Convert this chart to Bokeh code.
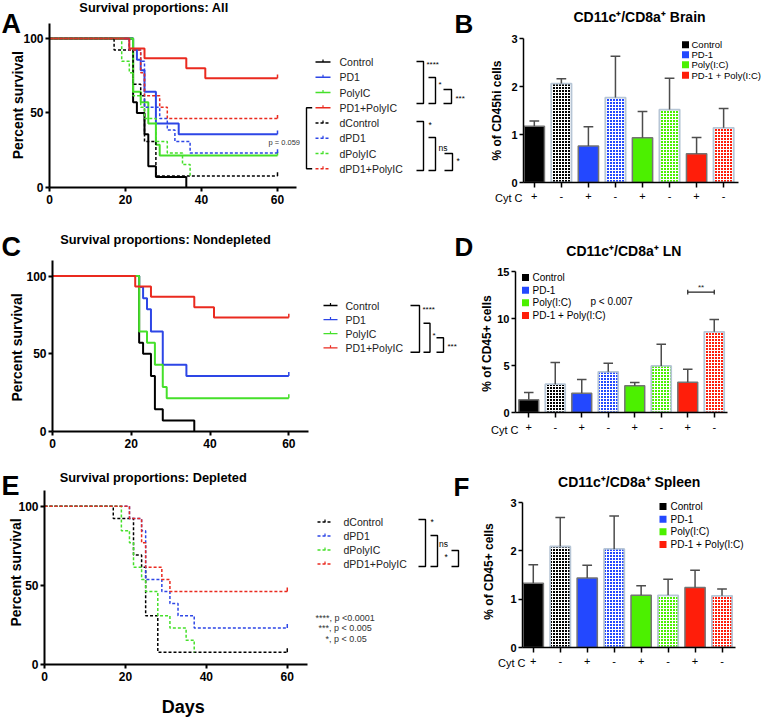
import math
from bokeh.plotting import figure
from bokeh.layouts import row, column
from bokeh.models import Range1d, FixedTicker
from bokeh.core.properties import value
from bokeh.embed import file_html
from bokeh.resources import INLINE

FONT = "Liberation Sans"

# ---------------- data ----------------
# Kaplan-Meier curves: day of each step and % surviving after it (last point = censoring at day 60)
ctrl_days = [0, 22, 23, 25, 26, 28, 36]
ctrl_surv = [100, 57.1, 50.0, 35.7, 14.3, 7.1, 0.0]
pd1_days = [0, 22, 23, 24, 25, 28, 34, 60]
pd1_surv = [100, 92.9, 85.7, 78.6, 64.3, 42.9, 35.7, 35.7]
poly_days = [0, 22, 24, 26, 28, 29, 60]
poly_surv = [100, 64.3, 57.1, 42.9, 28.6, 21.4, 21.4]
combo_days = [0, 21, 25, 36, 41, 60]
combo_surv = [100, 93.3, 86.7, 80.0, 73.3, 73.3]
dctrl_days = [0, 17, 22, 24, 25, 28, 60]
dctrl_surv = [100, 92.3, 69.2, 61.5, 30.8, 7.7, 7.7]
dpd1_days = [0, 21, 24, 25, 29, 31, 33, 37, 60]
dpd1_surv = [100, 92.3, 84.6, 53.8, 46.2, 38.5, 30.8, 23.1, 23.1]
dpoly_days = [0, 19, 21, 22, 24, 25, 28, 31, 35, 37]
dpoly_surv = [100, 84.6, 76.9, 61.5, 53.8, 46.2, 30.8, 23.1, 15.4, 7.7]
dcombo_days = [0, 21, 24, 25, 29, 31, 60]
dcombo_surv = [100, 92.3, 76.9, 61.5, 53.8, 46.2, 46.2]

nondep_names = ["Control", "PD1", "PolyIC", "PD1+PolyIC"]
dep_names = ["dControl", "dPD1", "dPolyIC", "dPD1+PolyIC"]
day_ticks = [0, 20, 40, 60]
pct_ticks = [0, 50, 100]

cytc = ["+", "-", "+", "-", "+", "-", "+", "-"]
bar_groups = ["Control", "PD-1", "Poly(I:C)", "PD-1 + Poly(I:C)"]
brain_mean = [1.17, 2.06, 0.76, 1.77, 0.93, 1.52, 0.60, 1.14]
brain_sem = [0.11, 0.10, 0.40, 0.86, 0.55, 0.65, 0.34, 0.40]
ln_mean = [1.35, 3.01, 2.06, 4.33, 2.84, 4.96, 3.23, 8.58]
ln_sem = [0.78, 2.31, 1.45, 0.92, 0.35, 2.31, 1.38, 1.31]
spleen_mean = [1.33, 2.09, 1.44, 2.04, 1.08, 1.08, 1.24, 1.07]
spleen_sem = [0.38, 0.60, 0.26, 0.68, 0.20, 0.33, 0.36, 0.14]
brain_ticks = [0, 1, 2, 3]
ln_ticks = [0, 5, 10, 15]
spleen_ticks = [0, 1, 2, 3]
ln_sig_pair = (6, 7)
ln_sig_y = 12.8

SURV_COLORS = ["#000000", "#2d46e6", "#45e02a", "#ea2a1f"]
BAR_COLORS = ["#000000", "#2348ff", "#4cf000", "#ff1e0a"]


class Pan:
    def __init__(self, x0, y0, W, H, frame=None, xr=None, yr=None):
        blank = frame is None
        if blank:
            frame = (x0, x0 + W, y0, y0 + H)
            xr = (x0, x0 + W)
            yr = (y0 + H, y0)
        l, r, t, b = frame
        fl, fr, ft, fb = round(l - x0), round(r - x0), round(t - y0), round(b - y0)
        self.L, self.R, self.T, self.B = x0 + fl, x0 + fr, y0 + ft, y0 + fb
        self.xr, self.yr = xr, yr
        kw = dict(width=W, height=H, x_range=Range1d(*xr), y_range=Range1d(*yr),
                  min_border_left=fl, min_border_right=W - fr,
                  min_border_top=ft, min_border_bottom=H - fb,
                  output_backend="svg", toolbar_location=None)
        if blank:
            kw.update(x_axis_location=None, y_axis_location=None)
        self.p = figure(**kw)
        if "frame_align" in self.p.properties():
            self.p.frame_align = False
        self.p.outline_line_color = None
        self.p.xgrid.visible = False
        self.p.ygrid.visible = False
        self.p.background_fill_color = "white"
        self.p.border_fill_color = "white"

    def dx(self, rx):
        return self.xr[0] + (rx - self.L) / (self.R - self.L) * (self.xr[1] - self.xr[0])

    def dy(self, ry):
        return self.yr[0] + (self.B - ry) / (self.B - self.T) * (self.yr[1] - self.yr[0])

    def lab(self, rx, ry, text, size, bold=False, align="left", baseline="middle",
            angle=0, color="black"):
        r = self.p.text(x=[self.dx(rx)], y=[self.dy(ry)], text=[text], text_font=value(FONT),
                        text_font_size=f"{size}px", text_font_style="bold" if bold else "normal",
                        text_align=align, text_baseline=baseline, angle=angle, text_color=color)
        r.level = "overlay"

    def txt(self, xs, ys, texts, size, color="black", align="left", bold=False):
        self.p.text(x=xs, y=ys, text=texts, text_font=value(FONT), text_font_size=f"{size}px",
                    text_baseline="middle", text_align=align, text_color=color,
                    text_font_style="bold" if bold else "normal")


def style_axis(ax, lw, tick_out, standoff, size, bold=True):
    ax.axis_line_color = "black"
    ax.axis_line_width = lw
    ax.major_tick_line_color = "black"
    ax.major_tick_line_width = lw
    ax.major_tick_out = tick_out
    ax.major_tick_in = 0
    ax.minor_tick_line_color = None
    ax.major_label_standoff = standoff
    ax.major_label_text_font = FONT
    ax.major_label_text_font_size = f"{size}px"
    ax.major_label_text_font_style = "bold" if bold else "normal"
    ax.major_label_text_color = "black"


def surv_panel(x0, y0, W, H, frame, series):
    P = Pan(x0, y0, W, H, frame, (0, 65), (0, 110))
    p = P.p
    for days, surv, col, dashed in series:
        p.step(days, surv, mode="after", line_color=col,
               line_width=1.5 if dashed else 2.0, line_dash="3 2" if dashed else "solid")
        if days[-1] == 60:
            p.segment(x0=[days[-1]], y0=[surv[-1]], x1=[days[-1]], y1=[surv[-1] + 2.5],
                      line_color=col, line_width=1.5)
    p.xaxis.ticker = FixedTicker(ticks=day_ticks)
    p.yaxis.ticker = FixedTicker(ticks=pct_ticks)
    style_axis(p.xaxis[0], 2, 4, 3, 12)
    style_axis(p.yaxis[0], 2, 4, 2, 12)
    return P


def bar_panel(x0, y0, W, H, frame, xr, ymax, yticks, means, sems, label_standoff):
    P = Pan(x0, y0, W, H, frame, xr, (0, ymax))
    p = P.p
    xs = list(range(len(means)))
    for i in xs:
        col = BAR_COLORS[i // 2]
        if cytc[i] == "+":
            p.vbar(x=[i], top=[means[i]], bottom=0, width=0.75, fill_color=col,
                   line_color="#747474", line_width=1.5)
        else:
            p.vbar(x=[i], top=[means[i]], bottom=0, width=0.75, fill_color=col,
                   hatch_pattern="cross", hatch_color="white", hatch_scale=3, hatch_weight=1,
                   line_color="#b7c6d6", line_width=1.8)
    tops = [m + s for m, s in zip(means, sems)]
    p.segment(x0=xs, y0=means, x1=xs, y1=tops, line_color="#4d4d4d", line_width=1.5)
    p.segment(x0=[x - 0.18 for x in xs], y0=tops, x1=[x + 0.18 for x in xs], y1=tops,
              line_color="#4d4d4d", line_width=1.5)
    p.xaxis.ticker = FixedTicker(ticks=xs)
    p.xaxis.major_label_overrides = {i: cytc[i] for i in xs}
    p.yaxis.ticker = FixedTicker(ticks=yticks)
    style_axis(p.xaxis[0], 1.5, 5, label_standoff, 11, bold=False)
    style_axis(p.yaxis[0], 1.5, 4, 2, 11)
    return P


def bar_legend(P, sq_x, text_x, rows, size):
    for g, ry, col in zip(bar_groups, rows, BAR_COLORS):
        P.p.rect(x=[P.dx(sq_x)], y=[P.dy(ry)], width=7, height=7, width_units="screen",
                 height_units="screen", fill_color=col, line_color=None)
        P.lab(text_x, ry, g, size)


def surv_legend(M, xl0, xl1, xt, rows, names, dashed_flags, size=10.5):
    for ry, col, dashed in zip(rows, SURV_COLORS * 2, dashed_flags):
        M.p.line([xl0, xl1], [ry, ry], line_color=col, line_width=1.3,
                 line_dash="3 2" if dashed else "solid")
        xm = (xl0 + xl1) / 2
        M.p.line([xm, xm], [ry, ry - 2.5], line_color=col, line_width=1.2)
    M.txt([xt] * len(names), rows, names, size, color="#222222")


def bracket(M, x0, x1, ytop, ybot, lw=1.4):
    M.p.line([x0, x1, x1, x0], [ytop, ytop, ybot, ybot], line_color="black", line_width=lw)


def boxed(p):
    return column(p)


# ================= Row 1 =================
nondep_series = [(ctrl_days, ctrl_surv, SURV_COLORS[0], False),
                 (pd1_days, pd1_surv, SURV_COLORS[1], False),
                 (poly_days, poly_surv, SURV_COLORS[2], False),
                 (combo_days, combo_surv, SURV_COLORS[3], False)]
dep_series = [(dctrl_days, dctrl_surv, SURV_COLORS[0], True),
              (dpd1_days, dpd1_surv, SURV_COLORS[1], True),
              (dpoly_days, dpoly_surv, SURV_COLORS[2], True),
              (dcombo_days, dcombo_surv, SURV_COLORS[3], True)]

A = surv_panel(0, 0, 300, 228, (49.3, 296, 22.7, 186.7), nondep_series + dep_series)
A.lab(1, 23, "A", 27, bold=True, baseline="alphabetic")
A.lab(153.5, 7, "Survival proportions: All", 12.8, bold=True, align="center")
A.lab(17.5, 104.7, "Percent survival", 14, bold=True, align="center", angle=math.pi / 2)
A.lab(268, 141.7, "p = 0.059", 7.5, color="#333333")

M1 = Pan(300, 0, 178, 228)
rowsA = [61.5 + 15.25 * i for i in range(8)]
surv_legend(M1, 315, 330, 339, rowsA, nondep_names + dep_names, [False] * 4 + [True] * 4)
M1.p.line([311.7, 306, 306, 311.7], [rowsA[3], rowsA[3], rowsA[7], rowsA[7]],
          line_color="black", line_width=1.4)
bracket(M1, 416, 423, 61, 103)
bracket(M1, 428, 435, 77, 103)
bracket(M1, 443, 451, 89, 103)
M1.txt([426, 438, 455], [63.5, 84, 98], ["****", "*", "***"], 8)
bracket(M1, 416, 423, 121, 170)
bracket(M1, 428, 435, 137, 170)
bracket(M1, 444, 452, 153, 170)
M1.txt([428, 438, 456], [124, 147, 160], ["*", "ns", "*"], 8.5)
M1.lab(454, 23.3, "B", 26, bold=True, baseline="alphabetic")

B = bar_panel(478, 0, 284, 228, (523.3, 738, 38.3, 181.7), (-0.4, 7.55), 3, brain_ticks,
              brain_mean, brain_sem, 4)
B.lab(639, 16.7, "CD11c\u207a/CD8a\u207a Brain", 14, bold=True, align="center")
B.lab(496.7, 110, "% of CD45hi cells", 12, bold=True, align="center", angle=math.pi / 2)
B.lab(522, 197.7, "Cyt C", 11, align="right")
bar_legend(B, 685, 691, [44.3, 54.3, 64.3, 74.7], 9.5)

# ================= Row 2 =================
C = surv_panel(0, 228, 312, 228, (51.7, 308.3, 260, 431), nondep_series)
C.lab(1, 246, "C", 27, bold=True, baseline="alphabetic")
C.lab(165, 238.5, "Survival proportions: Nondepleted", 12.8, bold=True, align="center")
C.lab(16, 347, "Percent survival", 14, bold=True, align="center", angle=math.pi / 2)

M2 = Pan(312, 228, 166, 228)
rowsC = [305, 319.1, 333.2, 347.3]
surv_legend(M2, 323, 337, 345, rowsC, nondep_names, [False] * 4)
bracket(M2, 410, 419, 305, 351.7)
bracket(M2, 423, 429.5, 322.7, 351.7)
bracket(M2, 436, 443, 337.3, 351.7)
M2.txt([422, 432, 447], [309, 335, 346], ["****", "*", "***"], 8)
M2.lab(454, 246.7, "D", 26, bold=True, baseline="alphabetic")

D = bar_panel(478, 228, 284, 228, (515, 726.7, 270.7, 411.7), (-0.5, 7.5), 15, ln_ticks,
              ln_mean, ln_sem, 5)
D.lab(623.3, 250, "CD11c\u207a/CD8a\u207a LN", 14, bold=True, align="center")
D.lab(486.7, 343, "% of CD45+ cells", 12, bold=True, align="center", angle=math.pi / 2)
D.lab(518, 429.3, "Cyt C", 11, align="right")
bar_legend(D, 525, 532, [277, 289.7, 302.3, 315], 10)
D.lab(590, 301.3, "p < 0.007", 10)
sx0, sx1 = ln_sig_pair
D.p.segment(x0=[sx0], y0=[ln_sig_y], x1=[sx1], y1=[ln_sig_y], line_color="#222222", line_width=1.2)
D.p.segment(x0=[sx0, sx1], y0=[ln_sig_y - 0.25, ln_sig_y - 0.25], x1=[sx0, sx1],
            y1=[ln_sig_y + 0.25, ln_sig_y + 0.25], line_color="#222222", line_width=1.2)
D.p.text(x=[(sx0 + sx1) / 2], y=[ln_sig_y + 0.45], text=["**"], text_font=value(FONT),
         text_font_size="8px", text_align="center", text_baseline="middle", text_color="#222222")

# ================= Row 3 =================
E = surv_panel(0, 456, 310, 261, (44.3, 306.7, 490, 664.3), dep_series)
E.lab(1, 485, "E", 27, bold=True, baseline="alphabetic")
E.lab(152.7, 476.7, "Survival proportions: Depleted", 12.8, bold=True, align="center")
E.lab(15, 572, "Percent survival", 14, bold=True, align="center", angle=math.pi / 2)
E.lab(182.7, 706, "Days", 18, bold=True, align="center")

M3 = Pan(310, 456, 168, 261)
rowsE = [521.5, 535.5, 549.5, 563.5]
surv_legend(M3, 317, 332, 343, rowsE, dep_names, [True] * 4)
bracket(M3, 418, 425, 519, 566)
bracket(M3, 430, 437, 535, 566)
bracket(M3, 451, 458, 550, 566)
M3.txt([430, 438.5, 444], [521.5, 543.5, 556], ["*", "ns", "*"], 8.5)
M3.txt([315, 318, 325], [617, 627.5, 638], ["****, p <0.0001", "***, p < 0.005", "*, p < 0.05"],
       9, color="#333333")
M3.lab(453, 486.7, "F", 26, bold=True, baseline="alphabetic")

F = bar_panel(478, 456, 284, 261, (521.7, 735, 502.3, 646.7), (-0.4, 7.5), 3, spleen_ticks,
              spleen_mean, spleen_sem, 4)
F.lab(628.7, 481.7, "CD11c\u207a/CD8a\u207a Spleen", 14, bold=True, align="center")
F.lab(488, 571, "% of CD45+ cells", 12, bold=True, align="center", angle=math.pi / 2)
F.lab(525, 662.3, "Cyt C", 11, align="right")
bar_legend(F, 662.5, 670, [506, 518.7, 531.3, 544], 10)

layout = column(row(boxed(A.p), boxed(M1.p), boxed(B.p)),
                row(boxed(C.p), boxed(M2.p), boxed(D.p)),
                row(boxed(E.p), boxed(M3.p), boxed(F.p)))
open("out.html", "w").write(file_html(layout, INLINE))
